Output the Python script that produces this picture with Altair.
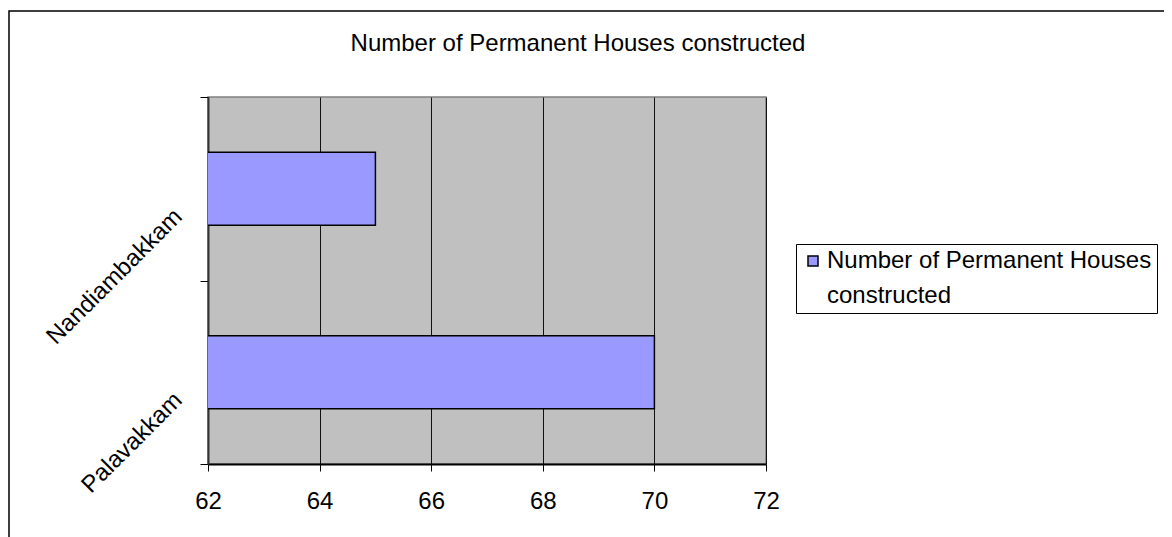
import altair as alt
import pandas as pd

categories = ["Nandiambakkam", "Palavakkam"]
values = [65, 70]
series_name = "Number of Permanent Houses constructed"
legend_lines = ["Number of Permanent Houses", "constructed"]
x_ticks = [62, 64, 66, 68, 70, 72]

df = pd.DataFrame({"village": categories, "houses": values, "series": [series_name] * len(categories)})

FONT = "Liberation Sans"
FS = 24
label_expr = "[" + ", ".join("'" + s + "'" for s in legend_lines) + "]"

bars = alt.Chart(df).mark_bar(
    stroke="black", strokeWidth=1.5, clip=True, size=73
).encode(
    y=alt.Y("village:N", sort=categories, title=None,
            scale=alt.Scale(paddingInner=0, paddingOuter=0),
            axis=alt.Axis(labelAngle=-45, labelAlign="right", labelBaseline="middle",
                          labelFontSize=FS, labelFont=FONT, labelColor="black",
                          tickBand="extent", tickSize=8, tickColor="black",
                          domainColor="#333333", domainWidth=2, labelPadding=22,
                          labelOffset=24, labelLimit=400, grid=False)),
    x=alt.X("houses:Q", title=None,
            scale=alt.Scale(domain=[62, 72], zero=False, nice=False),
            axis=alt.Axis(values=x_ticks, labelFontSize=FS, labelFont=FONT, labelColor="black",
                          labelFlush=False,
                          tickSize=7, tickColor="black", domainColor="black", domainWidth=2,
                          grid=True, gridColor="#111111", gridWidth=1, labelPadding=18)),
    color=alt.Color("series:N", scale=alt.Scale(range=["#9999FF"]),
                    legend=alt.Legend(title=None, orient="none", legendX=588, legendY=147,
                                      strokeColor="black", fillColor="white", padding=5,
                                      symbolType="square", symbolSize=100, symbolStrokeColor="black",
                                      symbolStrokeWidth=1.5, labelFontSize=FS, labelFont=FONT,
                                      labelColor="black", labelLimit=600, labelOffset=2,
                                      labelExpr=label_expr)),
)

frame = alt.Chart(pd.DataFrame({"d": [0]})).mark_rect(
    filled=False, stroke="black", strokeWidth=1.5
).encode(x=alt.value(-199), x2=alt.value(1400), y=alt.value(-86), y2=alt.value(800))

chart = alt.layer(bars, frame).properties(
    width=558, height=367,
    title=alt.TitleParams(series_name, fontSize=FS, font=FONT, fontWeight="normal",
                          color="black", anchor="middle", dx=91, dy=46, offset=0),
    autosize=alt.AutoSizeParams(type="none"),
    padding={"left": 200, "top": 89, "right": 398, "bottom": 76},
    background="white",
).configure(
    view=alt.ViewConfig(fill="#C0C0C0", stroke="#808080", strokeWidth=1.5),
    style={"guide-label": {"lineHeight": 35}},
)

chart.save("out.html", embed_options={"renderer": "svg", "actions": False})
